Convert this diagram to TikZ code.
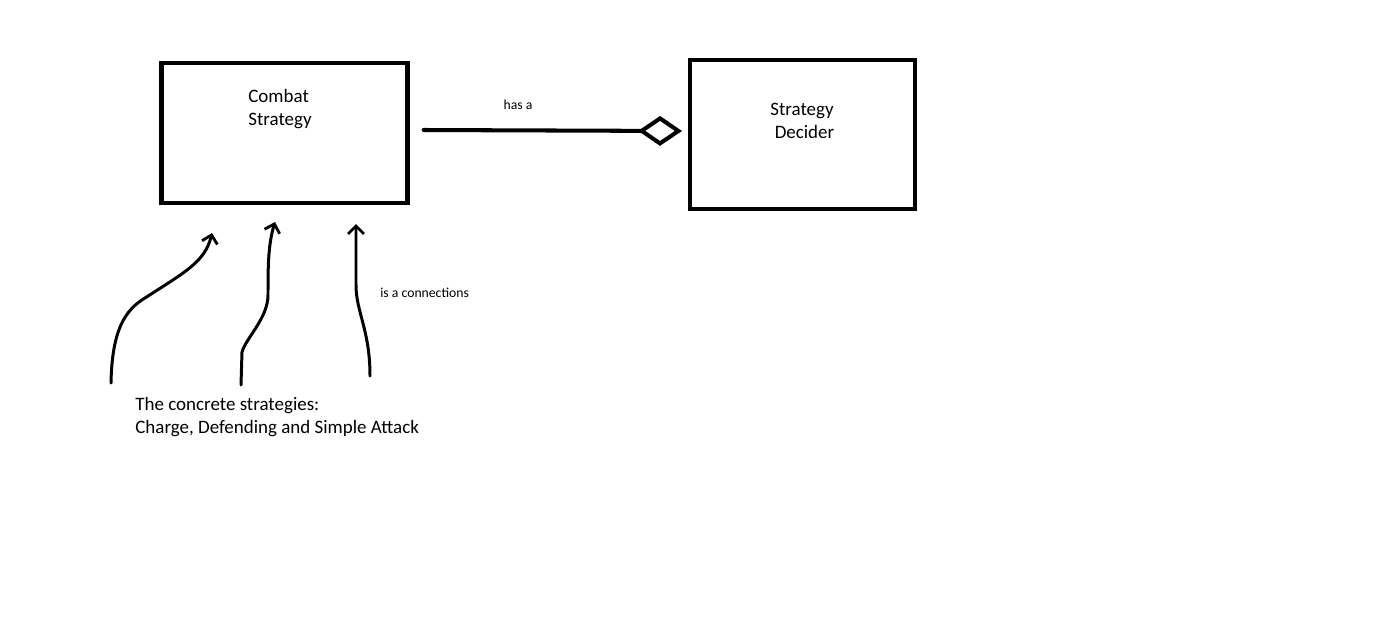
\documentclass[tikz,border=0pt]{standalone}
\usepackage{fontspec}
\setmainfont{Carlito}
\usetikzlibrary{arrows.meta, positioning, calc}

\tikzset{
  classbox/.style={draw, line width=2.5pt, inner sep=0pt},
  boxtext/.style={inner sep=0pt, font=\fontsize{10.8}{13}\selectfont},
  smalltext/.style={inner sep=0pt, font=\fontsize{7.8}{9}\selectfont},
  isa/.style={line width=1.7pt, line cap=round, -{Straight Barb[length=4.5pt, width=9pt, line width=1.6pt]}}
}

\begin{document}
\begin{tikzpicture}[x=0.02cm, y=-0.02cm]
  \useasboundingbox (0,0) rectangle (1398,643);

  % the two classes
  \node[classbox, minimum width=4.92cm, minimum height=2.8cm] (combat) at (284.5,133) {};
  \node[classbox, minimum width=4.5cm, minimum height=2.98cm] (decider) at (802.5,134.5) {};
  \node[boxtext, anchor=north west, align=left] (combatlbl) at (248,89) {Combat\\Strategy};
  \node[boxtext, anchor=north, align=center] (deciderlbl) at (802,103) {Strategy\\\hspace*{0.1cm}Decider};

  % aggregation
  \coordinate (hasend) at (682,131);
  \draw[line width=2.3pt, line cap=round, -{Diamond[open, length=25pt, width=17pt, line width=2.3pt]}]
    ([xshift=0.28cm, yshift=0.06cm]combat.east) -- (hasend);
  \node[smalltext] (hasa) at (518,105) {has a};

  % concrete strategies
  \coordinate (tailA) at (111,383);
  \coordinate (tailB) at (241,385);
  \coordinate (tailC) at (370,376);
  \coordinate (tipA) at (212,233);
  \coordinate (tipB) at (275,222);
  \coordinate (tipC) at (356,224);
  \draw[isa] (tailA) .. controls (112,330) and (125,310) .. (145,298)
    .. controls (185,272) and (205,262) .. (tipA);
  \draw[isa] (tailB) -- (242,352) .. controls (246,338) and (268,318) .. (268,295)
    .. controls (268,268) and (268,245) .. (tipB);
  \draw[isa] (tailC) .. controls (370,330) and (356,312) .. (356,285) -- (tipC);
  \node[smalltext, anchor=west] (isalbl) at (380,293) {is a connections};

  \node[boxtext, anchor=north west, align=left] (concrete) at (135,397)
    {The concrete strategies:\\Charge, Defending and Simple Attack};
\end{tikzpicture}
\end{document}
